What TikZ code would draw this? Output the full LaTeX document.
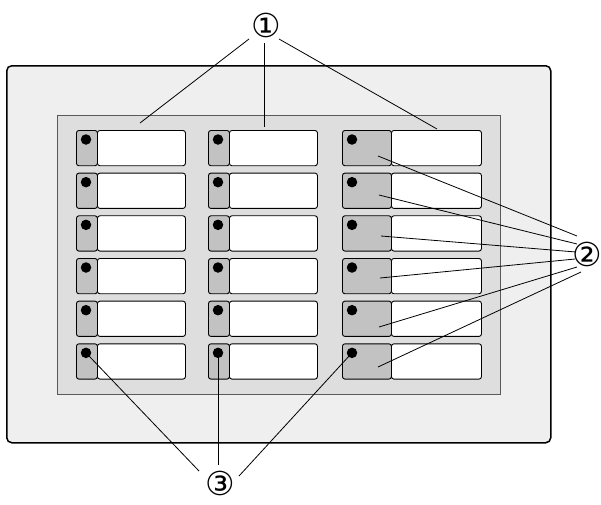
\documentclass[tikz,border=0pt]{standalone}
\usepackage{fontspec}
\newfontfamily\dejavu{DejaVu Sans}
\definecolor{outerc}{RGB}{239,239,239}
\definecolor{innerc}{RGB}{222,222,222}
\definecolor{keyc}{RGB}{194,194,194}
\definecolor{edgec}{RGB}{90,90,90}
\tikzset{
  outerpanel/.style={draw=black, line width=1.5pt, fill=outerc, rounded corners=5pt, inner sep=0pt, anchor=north west},
  innerpanel/.style={draw=edgec, line width=1pt, fill=innerc, inner sep=0pt, anchor=north west},
  graykey/.style={draw=black, line width=0.9pt, fill=keyc, rounded corners=2.5pt, inner sep=0pt, anchor=north west, minimum height=35.3pt},
  whitekey/.style={draw=black, line width=0.9pt, fill=white, rounded corners=2.5pt, inner sep=0pt, anchor=north west, minimum height=35.3pt},
  dot/.style={circle, fill=black, inner sep=0pt, minimum size=10.5pt},
  lbl/.style={font=\dejavu\fontsize{33}{33}\selectfont, inner sep=0pt},
  leader/.style={draw=black, line width=0.8pt}
}
\begin{document}
\begin{tikzpicture}[x=1pt,y=-1pt]
\useasboundingbox (0,0) rectangle (601,504);
\node[outerpanel, minimum width=544pt, minimum height=377pt] (panel) at (6,65) {};
\node[innerpanel, minimum width=443pt, minimum height=279pt] (inner) at (57,115) {};
\foreach \c/\xa/\xs/\xb in {1/76/97/185, 2/208/229/317, 3/342/391/481} {
  \foreach \r in {1,...,6} {
    \pgfmathsetmacro\t{130+42.67*(\r-1)}
    \pgfmathsetmacro\wa{\xs-\xa}
    \pgfmathsetmacro\wb{\xb-\xs}
    \pgfmathsetmacro\dx{\xa+10}
    \pgfmathsetmacro\dy{\t+9.5}
    \node[whitekey, minimum width=\wb pt] (w\c\r) at (\xs,\t) {};
    \node[graykey, minimum width=\wa pt] (g\c\r) at (\xa,\t) {};
    \node[dot] (d\c\r) at (\dx,\dy) {};
  }
}
% labels
\node[lbl] (n1) at (266,25) {①};
\node[lbl] (n2) at (587,254) {②};
\node[lbl] (n3) at (220,483) {③};
% leader ends
\coordinate (a1) at (249,39); \coordinate (a2) at (264,43); \coordinate (a3) at (279,39);
\coordinate (e1) at (140,123); \coordinate (e2) at (264,127); \coordinate (e3) at (437,129);
\draw[leader] (a1) -- (e1);
\draw[leader] (a2) -- (e2);
\draw[leader] (a3) -- (e3);
\coordinate (b1) at (577,236); \coordinate (b2) at (577,244); \coordinate (b3) at (576,252);
\coordinate (b4) at (575,259); \coordinate (b5) at (577,267); \coordinate (b6) at (581,272);
\coordinate (f1) at (378,156); \coordinate (f2) at (379,195); \coordinate (f3) at (381,236);
\coordinate (f4) at (380,278); \coordinate (f5) at (379,327); \coordinate (f6) at (378,367);
\foreach \i in {1,...,6} { \draw[leader] (b\i) -- (f\i); }
\coordinate (c1) at (199,471); \coordinate (c2) at (218,465); \coordinate (c3) at (239,476);
\draw[leader] (c1) -- (d16.center);
\draw[leader] (c2) -- (d26.center);
\draw[leader] (c3) -- (d36.center);
\end{tikzpicture}
\end{document}
